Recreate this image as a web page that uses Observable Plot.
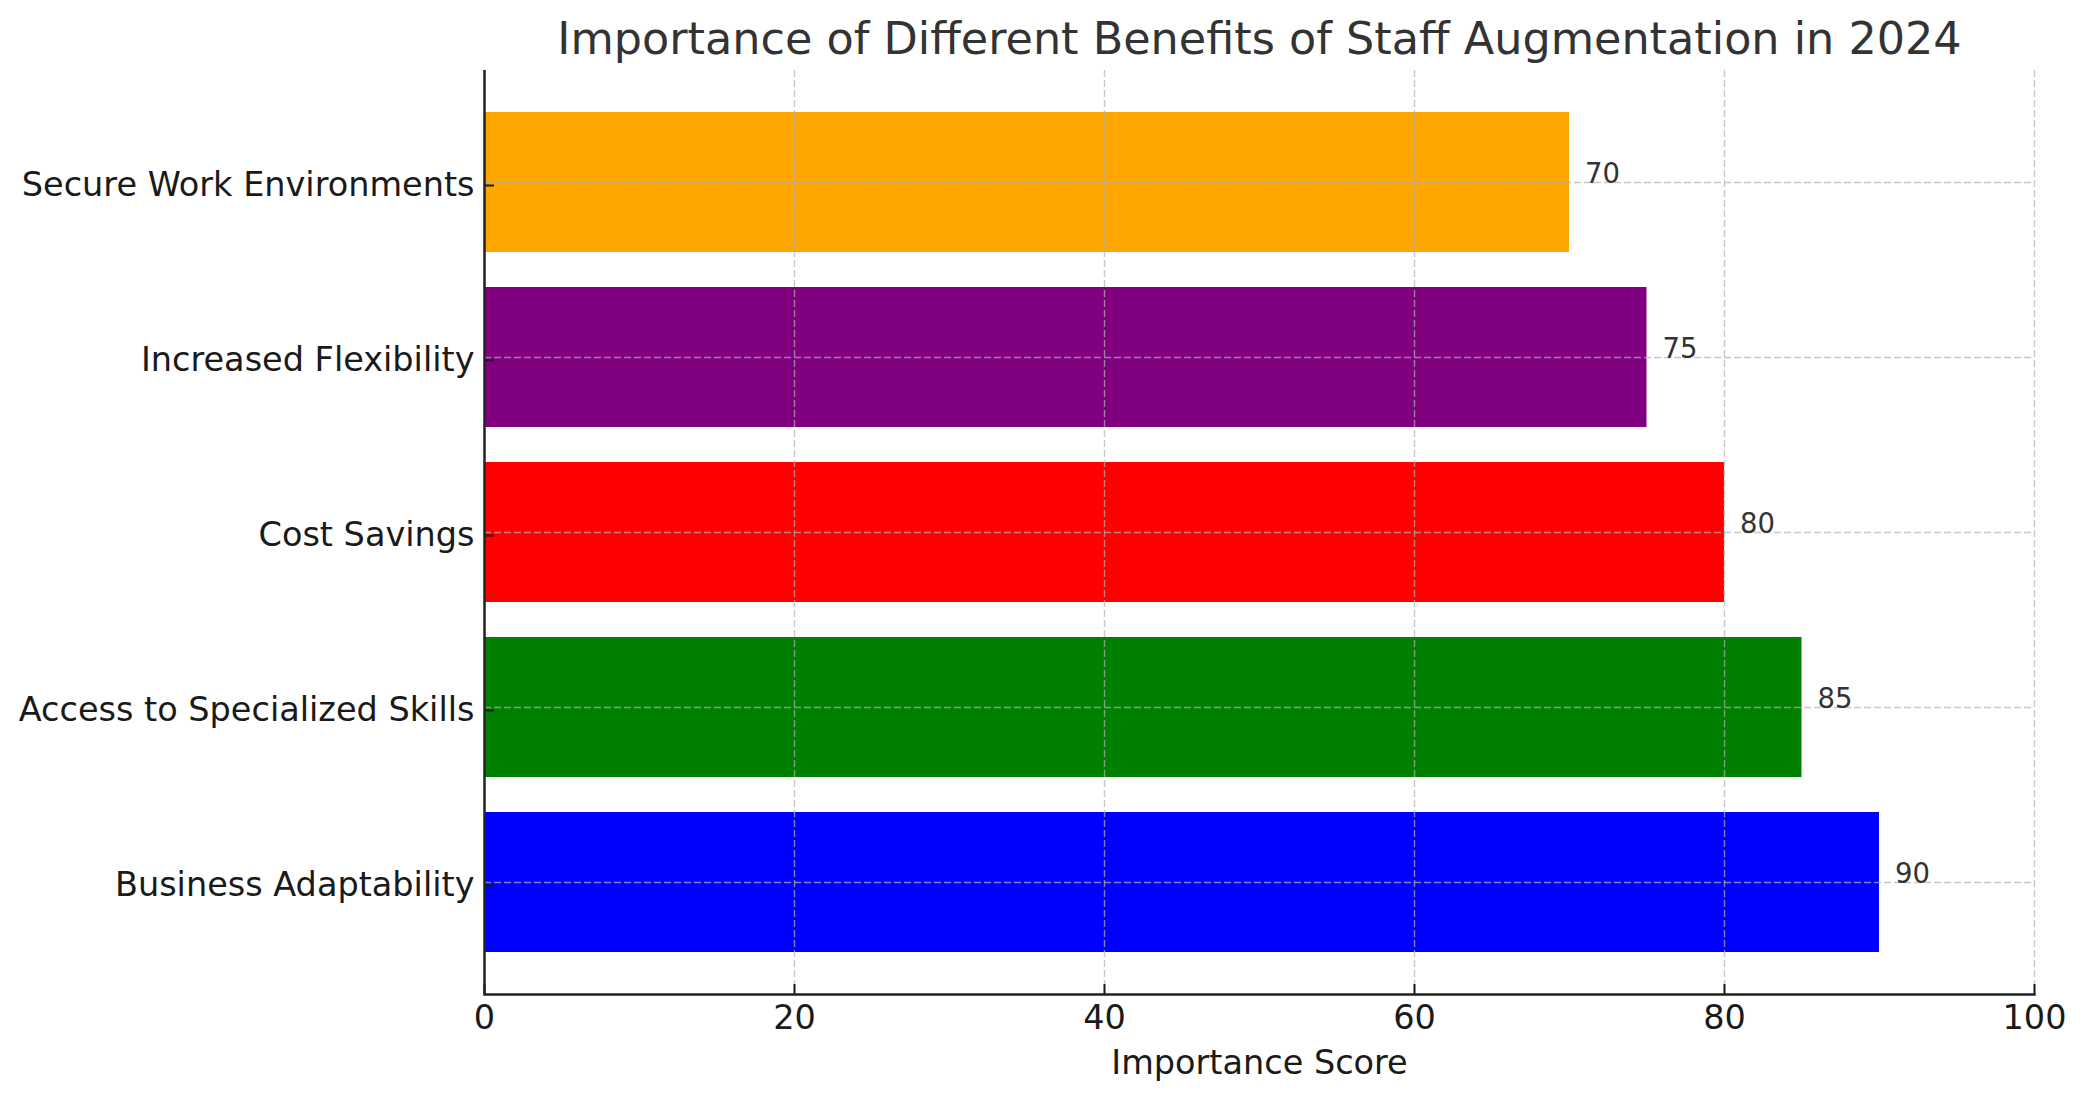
<!DOCTYPE html>
<html>
<head>
<meta charset="utf-8">
<script src="https://cdn.jsdelivr.net/npm/d3@7"></script>
<script src="https://cdn.jsdelivr.net/npm/@observablehq/plot@0.6"></script>
<style>
  html, body { margin: 0; padding: 0; background: white; }
  #chart svg { display: block; }
</style>
</head>
<body>
<div id="chart"></div>
<script>
const title = "Importance of Different Benefits of Staff Augmentation in 2024";
const xLabel = "Importance Score";
const categories = ["Business Adaptability", "Access to Specialized Skills", "Cost Savings", "Increased Flexibility", "Secure Work Environments"];
const values = [90, 85, 80, 75, 70];
const colors = ["blue", "green", "red", "purple", "orange"];
const xTicks = [0, 20, 40, 60, 80, 100];

const data = categories.map((c, i) => ({category: c, value: values[i]}));

const font = "DejaVu Sans";
const gridStyle = {stroke: "#b0b0b0", strokeOpacity: 0.7, strokeWidth: 1.4, strokeDasharray: "7,3"};

const chart = Plot.plot({
  width: 2085,
  height: 1101,
  marginLeft: 484,
  marginRight: 51,
  marginTop: 70,
  marginBottom: 107,
  style: {fontFamily: font, background: "white"},
  x: {domain: [0, 100]},
  y: {domain: categories.slice().reverse(), paddingInner: 0.2, paddingOuter: 0.24},
  color: {domain: categories, range: colors},
  marks: [
    Plot.barX(data, {x: "value", y: "category", fill: "category"}),
    Plot.ruleX(xTicks, gridStyle),
    Plot.ruleY(categories, {...gridStyle, x1: 0, x2: 100}),
    Plot.text(data, {x: d => d.value + 1, y: "category", text: d => String(d.value), textAnchor: "start", lineAnchor: "bottom", fontSize: 27.5, fill: "#333"}),
    Plot.axisX({ticks: xTicks, tickSize: -10, tickPadding: 21, fontSize: 33.5, color: "#1a1a1a", strokeWidth: 2, label: null, tickFormat: d => String(d)}),
    Plot.axisY({tickSize: -10, tickPadding: 20, fontSize: 33.5, color: "#1a1a1a", strokeWidth: 2, label: null, dy: 3}),
    Plot.ruleX([0], {stroke: "#222", strokeWidth: 2.5}),
    Plot.frame({anchor: "bottom", stroke: "#222", strokeWidth: 2.5}),
    Plot.text([title], {frameAnchor: "top", dy: -16.5, lineAnchor: "bottom", fontSize: 44.5, fill: "#333"}),
    Plot.text([xLabel], {frameAnchor: "bottom", dy: 79, lineAnchor: "bottom", fontSize: 33.5, fill: "#1a1a1a"})
  ]
});
document.getElementById("chart").append(chart);
</script>
</body>
</html>
